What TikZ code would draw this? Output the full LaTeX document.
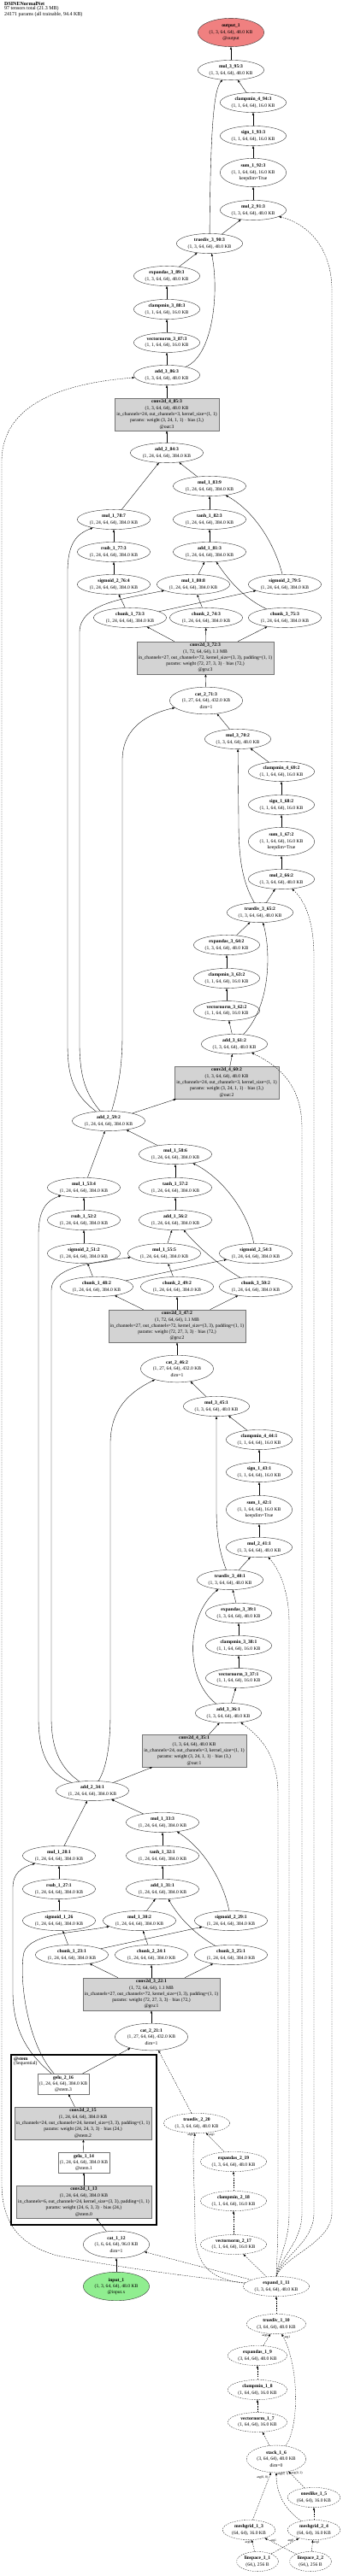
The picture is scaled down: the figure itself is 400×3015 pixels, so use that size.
\documentclass[tikz,border=0pt]{standalone}
\usepackage{fontspec}
\setmainfont{Liberation Serif}
\usetikzlibrary{shapes.geometric,arrows.meta}
\definecolor{outred}{HTML}{F08080}
\definecolor{ingreen}{HTML}{90EE90}
\definecolor{convgray}{HTML}{D3D3D3}
\newcommand{\nm}[1]{\textbf{#1}}
\newcommand{\shA}{(1, 3, 64, 64), 48.0 KB}
\newcommand{\shB}{(1, 1, 64, 64), 16.0 KB}
\newcommand{\shC}{(1, 24, 64, 64), 384.0 KB}

\begin{document}
\begin{tikzpicture}[x=1pt, y=1pt,
  every node/.style={font=\fontsize{5.6}{7.3}\selectfont, align=center},
  op/.style={ellipse, draw=black!80, line width=0.4pt, inner xsep=2pt, inner ysep=2pt},
  cop/.style={op, dash pattern=on 1.6pt off 1.2pt},
  layer/.style={rectangle, draw=black!55, fill=convgray, line width=0.4pt, inner xsep=2pt, inner ysep=2pt},
  act/.style={rectangle, draw=black!55, fill=white, line width=0.4pt, inner xsep=2pt, inner ysep=2pt},
  edge/.style={-{Triangle[length=3pt,width=2.2pt]}, line width=0.35pt},
  cedge/.style={edge, dash pattern=on 1.6pt off 1.2pt},
  albl/.style={font=\fontsize{3.8}{4}\selectfont, inner sep=0.3pt}]
\useasboundingbox (0,0) rectangle (400,-3015);

\node[anchor=north west, align=left, inner sep=0pt, font=\fontsize{6}{5.4}\selectfont] (hdr) at (5,-2) {\textbf{DSINENormalNet}\\97 tensors total (21.3 MB)\\24171 params (all trainable, 94.4 KB)};

% pass 3
\node[op, fill=outred] (out1) at (270,-38) {\nm{output\_1}\\\shA\\@output};
\node[op] (mul3_95) at (270,-82) {\nm{mul\_3\_95:3}\\\shA};
\node[op] (cm4_94) at (296,-120) {\nm{clampmin\_4\_94:3}\\\shB};
\node[op] (sign_93) at (296,-159) {\nm{sign\_1\_93:3}\\\shB};
\node[op] (sum_92) at (296,-202) {\nm{sum\_1\_92:3}\\\shB\\keepdim=True};
\node[op] (mul2_91) at (296,-246) {\nm{mul\_2\_91:3}\\\shA};
\node[op] (div3_90) at (245,-285) {\nm{truediv\_3\_90:3}\\\shA};
\node[op] (exp3_89) at (195,-323) {\nm{expandas\_3\_89:3}\\\shA};
\node[op] (cm3_88) at (195,-362) {\nm{clampmin\_3\_88:3}\\\shB};
\node[op] (vn3_87) at (195,-401) {\nm{vectornorm\_3\_87:3}\\\shB};
\node[op] (add3_86) at (195,-439) {\nm{add\_3\_86:3}\\\shA};
\node[layer] (conv4_85) at (195,-485) {\nm{conv2d\_4\_85:3}\\\shA\\in\_channels=24, out\_channels=3, kernel\_size=(1, 1)\\params: weight (3, 24, 1, 1) $\cdot$ bias (3,)\\@out:3};
\node[op] (add2_84) at (195,-530) {\nm{add\_2\_84:3}\\\shC};
\node[op] (mul1_83) at (245,-569) {\nm{mul\_1\_83:9}\\\shC};
\node[op] (mul1_78) at (133,-608) {\nm{mul\_1\_78:7}\\\shC};
\node[op] (tanh_82) at (245,-608) {\nm{tanh\_1\_82:3}\\\shC};
\node[op] (rsub_77) at (133,-646) {\nm{rsub\_1\_77:3}\\\shC};
\node[op] (add1_81) at (245,-646) {\nm{add\_1\_81:3}\\\shC};
\node[op] (sig_76) at (133,-684) {\nm{sigmoid\_2\_76:4}\\\shC};
\node[op] (mul1_80) at (226,-684) {\nm{mul\_1\_80:8}\\\shC};
\node[op] (sig_79) at (333,-684) {\nm{sigmoid\_2\_79:5}\\\shC};
\node[op] (chk1_73) at (152,-723) {\nm{chunk\_1\_73:3}\\\shC};
\node[op] (chk2_74) at (241,-723) {\nm{chunk\_2\_74:3}\\\shC};
\node[op] (chk3_75) at (333,-723) {\nm{chunk\_3\_75:3}\\\shC};
\node[layer] (conv3_72) at (240,-770) {\nm{conv2d\_3\_72:3}\\(1, 72, 64, 64), 1.1 MB\\in\_channels=27, out\_channels=72, kernel\_size=(3, 3), padding=(1, 1)\\params: weight (72, 27, 3, 3) $\cdot$ bias (72,)\\@gru:3};
\node[op] (cat2_71) at (241,-820) {\nm{cat\_2\_71:3}\\(1, 27, 64, 64), 432.0 KB\\dim=1};

% pass 2
\node[op] (mul3_70) at (278,-865) {\nm{mul\_3\_70:2}\\\shA};
\node[op] (cm4_69) at (329,-903) {\nm{clampmin\_4\_69:2}\\\shB};
\node[op] (sign_68) at (329,-942) {\nm{sign\_1\_68:2}\\\shB};
\node[op] (sum_67) at (329,-985) {\nm{sum\_1\_67:2}\\\shB\\keepdim=True};
\node[op] (mul2_66) at (329,-1029) {\nm{mul\_2\_66:2}\\\shA};
\node[op] (div3_65) at (304,-1068) {\nm{truediv\_3\_65:2}\\\shA};
\node[op] (exp3_64) at (265,-1106) {\nm{expandas\_3\_64:2}\\\shA};
\node[op] (cm3_63) at (265,-1145) {\nm{clampmin\_3\_63:2}\\\shB};
\node[op] (vn3_62) at (265,-1183) {\nm{vectornorm\_3\_62:2}\\\shB};
\node[op] (add3_61) at (274,-1222) {\nm{add\_3\_61:2}\\\shA};
\node[layer] (conv4_60) at (265,-1267) {\nm{conv2d\_4\_60:2}\\\shA\\in\_channels=24, out\_channels=3, kernel\_size=(1, 1)\\params: weight (3, 24, 1, 1) $\cdot$ bias (3,)\\@out:2};
\node[op] (add2_59) at (127,-1312) {\nm{add\_2\_59:2}\\\shC};
\node[op] (mul1_58) at (205,-1351) {\nm{mul\_1\_58:6}\\\shC};
\node[op] (mul1_53) at (98,-1390) {\nm{mul\_1\_53:4}\\\shC};
\node[op] (tanh_57) at (205,-1390) {\nm{tanh\_1\_57:2}\\\shC};
\node[op] (rsub_52) at (98,-1428) {\nm{rsub\_1\_52:2}\\\shC};
\node[op] (add1_56) at (205,-1428) {\nm{add\_1\_56:2}\\\shC};
\node[op] (sig_51) at (98,-1467) {\nm{sigmoid\_2\_51:2}\\\shC};
\node[op] (mul1_55) at (192,-1467) {\nm{mul\_1\_55:5}\\\shC};
\node[op] (sig_54) at (299,-1467) {\nm{sigmoid\_2\_54:3}\\\shC};
\node[op] (chk1_48) at (113,-1506) {\nm{chunk\_1\_48:2}\\\shC};
\node[op] (chk2_49) at (207,-1506) {\nm{chunk\_2\_49:2}\\\shC};
\node[op] (chk3_50) at (299,-1506) {\nm{chunk\_3\_50:2}\\\shC};
\node[layer] (conv3_47) at (207,-1552) {\nm{conv2d\_3\_47:2}\\(1, 72, 64, 64), 1.1 MB\\in\_channels=27, out\_channels=72, kernel\_size=(3, 3), padding=(1, 1)\\params: weight (72, 27, 3, 3) $\cdot$ bias (72,)\\@gru:2};
\node[op] (cat2_46) at (207,-1602) {\nm{cat\_2\_46:2}\\(1, 27, 64, 64), 432.0 KB\\dim=1};

% pass 1
\node[op] (mul3_45) at (253,-1646) {\nm{mul\_3\_45:1}\\\shA};
\node[op] (cm4_44) at (303,-1685) {\nm{clampmin\_4\_44:1}\\\shB};
\node[op] (sign_43) at (303,-1723) {\nm{sign\_1\_43:1}\\\shB};
\node[op] (sum_42) at (303,-1767) {\nm{sum\_1\_42:1}\\\shB\\keepdim=True};
\node[op] (mul2_41) at (303,-1811) {\nm{mul\_2\_41:1}\\\shA};
\node[op] (div3_40) at (269,-1849) {\nm{truediv\_3\_40:1}\\\shA};
\node[op] (exp3_39) at (279,-1888) {\nm{expandas\_3\_39:1}\\\shA};
\node[op] (cm3_38) at (279,-1926) {\nm{clampmin\_3\_38:1}\\\shB};
\node[op] (vn3_37) at (279,-1964) {\nm{vectornorm\_3\_37:1}\\\shB};
\node[op] (add3_36) at (267,-2005) {\nm{add\_3\_36:1}\\\shA};
\node[layer] (conv4_35) at (227,-2049) {\nm{conv2d\_4\_35:1}\\\shA\\in\_channels=24, out\_channels=3, kernel\_size=(1, 1)\\params: weight (3, 24, 1, 1) $\cdot$ bias (3,)\\@out:1};
\node[op] (add2_34) at (108,-2096) {\nm{add\_2\_34:1}\\\shC};
\node[op] (mul1_33) at (190,-2133) {\nm{mul\_1\_33:3}\\\shC};
\node[op] (mul1_28) at (69,-2172) {\nm{mul\_1\_28:1}\\\shC};
\node[op] (tanh_32) at (190,-2172) {\nm{tanh\_1\_32:1}\\\shC};
\node[op] (rsub_27) at (69,-2211) {\nm{rsub\_1\_27:1}\\\shC};
\node[op] (add1_31) at (190,-2211) {\nm{add\_1\_31:1}\\\shC};
\node[op] (sig_26) at (69,-2248) {\nm{sigmoid\_1\_26}\\\shC};
\node[op] (mul1_30) at (163,-2248) {\nm{mul\_1\_30:2}\\\shC};
\node[op] (sig_29) at (270,-2248) {\nm{sigmoid\_2\_29:1}\\\shC};
\node[op] (chk1_23) at (84,-2288) {\nm{chunk\_1\_23:1}\\\shC};
\node[op] (chk2_24) at (177,-2288) {\nm{chunk\_2\_24:1}\\\shC};
\node[op] (chk3_25) at (270,-2288) {\nm{chunk\_3\_25:1}\\\shC};
\node[layer] (conv3_22) at (177,-2334) {\nm{conv2d\_3\_22:1}\\(1, 72, 64, 64), 1.1 MB\\in\_channels=27, out\_channels=72, kernel\_size=(3, 3), padding=(1, 1)\\params: weight (72, 27, 3, 3) $\cdot$ bias (72,)\\@gru:1};
\node[op] (cat2_21) at (177,-2384) {\nm{cat\_2\_21:1}\\(1, 27, 64, 64), 432.0 KB\\dim=1};

% stem
\draw[line width=2.5pt] (13,-2405) rectangle (183,-2604);
\node[anchor=north west, align=left, inner sep=0pt, font=\fontsize{5.6}{5}\selectfont] (stemlbl) at (16,-2408) {\textbf{@stem}\\(Sequential)};
\node[act] (gelu2_16) at (74,-2439) {\nm{gelu\_2\_16}\\\shC\\@stem.3};
\node[layer] (conv2_15) at (97,-2485) {\nm{conv2d\_2\_15}\\\shC\\in\_channels=24, out\_channels=24, kernel\_size=(3, 3), padding=(1, 1)\\params: weight (24, 24, 3, 3) $\cdot$ bias (24,)\\@stem.2};
\node[act] (gelu1_14) at (98,-2531) {\nm{gelu\_1\_14}\\\shC\\@stem.1};
\node[layer] (conv1_13) at (98,-2577) {\nm{conv2d\_1\_13}\\\shC\\in\_channels=6, out\_channels=24, kernel\_size=(3, 3), padding=(1, 1)\\params: weight (24, 6, 3, 3) $\cdot$ bias (24,)\\@stem.0};
\node[op] (cat1_12) at (136,-2627) {\nm{cat\_1\_12}\\(1, 6, 64, 64), 96.0 KB\\dim=1};
\node[op, fill=ingreen] (input1) at (136,-2676) {\nm{input\_1}\\\shA\\@input.x};

% ray directions
\node[cop] (div2_20) at (230,-2485) {\nm{truediv\_2\_20}\\\shA};
\node[cop] (exp2_19) at (273,-2530) {\nm{expandas\_2\_19}\\\shA};
\node[cop] (cm2_18) at (273,-2576) {\nm{clampmin\_2\_18}\\\shB};
\node[cop] (vn2_17) at (273,-2627) {\nm{vectornorm\_2\_17}\\\shB};
\node[cop] (expd_11) at (323,-2676) {\nm{expand\_1\_11}\\\shA};
\node[cop] (div1_10) at (323,-2720) {\nm{truediv\_1\_10}\\(3, 64, 64), 48.0 KB};
\node[cop] (exp1_9) at (301,-2757) {\nm{expandas\_1\_9}\\(3, 64, 64), 48.0 KB};
\node[cop] (cm1_8) at (301,-2797) {\nm{clampmin\_1\_8}\\(1, 64, 64), 16.0 KB};
\node[cop] (vn1_7) at (301,-2835) {\nm{vectornorm\_1\_7}\\(1, 64, 64), 16.0 KB};
\node[cop] (stack_6) at (323,-2878) {\nm{stack\_1\_6}\\(3, 64, 64), 48.0 KB\\dim=0};
\node[cop] (ones_5) at (367,-2923) {\nm{oneslike\_1\_5}\\(64, 64), 16.0 KB};
\node[cop] (mesh1_3) at (291,-2961) {\nm{meshgrid\_1\_3}\\(64, 64), 16.0 KB};
\node[cop] (mesh2_4) at (367,-2961) {\nm{meshgrid\_2\_4}\\(64, 64), 16.0 KB};
\node[cop] (lin1_1) at (301,-2998) {\nm{linspace\_1\_1}\\(64,), 256 B};
\node[cop] (lin2_2) at (363,-2998) {\nm{linspace\_2\_2}\\(64,), 256 B};

% edges, pass 3
\draw[edge] (mul3_95) -- (out1);
\draw[edge] (cm4_94) -- (mul3_95);
\draw[edge] (sign_93) -- (cm4_94);
\draw[edge] (sum_92) -- (sign_93);
\draw[edge] (mul2_91) -- (sum_92);
\draw[edge] (div3_90) -- (mul2_91);
\draw[edge] (div3_90) .. controls (246,-150) and (250,-105) .. (mul3_95);
\draw[edge] (exp3_89) -- (div3_90);
\draw[edge] (cm3_88) -- (exp3_89);
\draw[edge] (vn3_87) -- (cm3_88);
\draw[edge] (add3_86) -- (vn3_87);
\draw[edge] (add3_86) .. controls (250,-415) and (256,-340) .. (div3_90);
\draw[edge] (conv4_85) -- (add3_86);
\draw[edge] (add2_84) -- (conv4_85);
\draw[edge] (mul1_83) -- (add2_84);
\draw[edge] (mul1_78) -- (add2_84);
\draw[edge] (tanh_82) -- (mul1_83);
\draw[edge] (sig_79) .. controls (322,-640) and (300,-600) .. (mul1_83);
\draw[edge] (rsub_77) -- (mul1_78);
\draw[edge] (sig_76) -- (rsub_77);
\draw[edge] (add1_81) -- (tanh_82);
\draw[edge] (mul1_80) -- (add1_81);
\draw[edge] (chk3_75) .. controls (285,-700) and (268,-680) .. (add1_81);
\draw[edge] (chk1_73) -- (sig_76);
\draw[edge] (chk1_73) -- (sig_79);
\draw[edge] (chk2_74) -- (mul1_80);
\draw[edge] (conv3_72) -- (chk1_73);
\draw[edge] (conv3_72) -- (chk2_74);
\draw[edge] (conv3_72) -- (chk3_75);
\draw[edge] (cat2_71) -- (conv3_72);
\draw[edge] (mul3_70) -- (cat2_71);

% edges, pass 2
\draw[edge] (cm4_69) -- (mul3_70);
\draw[edge] (sign_68) -- (cm4_69);
\draw[edge] (sum_67) -- (sign_68);
\draw[edge] (mul2_66) -- (sum_67);
\draw[edge] (div3_65) -- (mul2_66);
\draw[edge] (div3_65) .. controls (282,-1030) and (279,-1000) .. (279,-960) -- (mul3_70);
\draw[edge] (exp3_64) -- (div3_65);
\draw[edge] (cm3_63) -- (exp3_64);
\draw[edge] (vn3_62) -- (cm3_63);
\draw[edge] (add3_61) -- (vn3_62);
\draw[edge] (add3_61) .. controls (318,-1175) and (316,-1110) .. (div3_65);
\draw[edge] (conv4_60) -- (add3_61);
\draw[edge] (add2_59) -- (conv4_60);
\draw[edge] (add2_59) .. controls (85,-1280) and (79,-1260) .. (79,-1220) -- (79,-670) .. controls (79,-635) and (90,-625) .. (mul1_78);
\draw[edge] (add2_59) .. controls (100,-1280) and (93,-1260) .. (93,-1220) -- (93,-740) .. controls (93,-705) and (150,-700) .. (mul1_80);
\draw[edge] (add2_59) .. controls (138,-1275) and (143,-1250) .. (143,-1210) -- (143,-890) .. controls (143,-850) and (175,-835) .. (cat2_71);
\draw[edge] (mul1_58) -- (add2_59);
\draw[edge] (mul1_53) -- (add2_59);
\draw[edge] (tanh_57) -- (mul1_58);
\draw[edge] (sig_54) .. controls (290,-1420) and (262,-1380) .. (mul1_58);
\draw[edge] (rsub_52) -- (mul1_53);
\draw[edge] (sig_51) -- (rsub_52);
\draw[edge] (add1_56) -- (tanh_57);
\draw[edge] (mul1_55) -- (add1_56);
\draw[edge] (chk3_50) .. controls (255,-1480) and (232,-1460) .. (add1_56);
\draw[edge] (chk1_48) -- (sig_51);
\draw[edge] (chk1_48) -- (sig_54);
\draw[edge] (chk2_49) -- (mul1_55);
\draw[edge] (conv3_47) -- (chk1_48);
\draw[edge] (conv3_47) -- (chk2_49);
\draw[edge] (conv3_47) -- (chk3_50);
\draw[edge] (cat2_46) -- (conv3_47);
\draw[edge] (mul3_45) -- (cat2_46);

% edges, pass 1
\draw[edge] (cm4_44) -- (mul3_45);
\draw[edge] (sign_43) -- (cm4_44);
\draw[edge] (sum_42) -- (sign_43);
\draw[edge] (mul2_41) -- (sum_42);
\draw[edge] (div3_40) -- (mul2_41);
\draw[edge] (div3_40) .. controls (256,-1815) and (253,-1795) .. (253,-1765) -- (mul3_45);
\draw[edge] (exp3_39) -- (div3_40);
\draw[edge] (cm3_38) -- (exp3_39);
\draw[edge] (vn3_37) -- (cm3_38);
\draw[edge] (add3_36) -- (vn3_37);
\draw[edge] (add3_36) .. controls (215,-1965) and (218,-1890) .. (div3_40);
\draw[edge] (conv4_35) -- (add3_36);
\draw[edge] (add2_34) -- (conv4_35);
\draw[edge] (add2_34) .. controls (55,-2075) and (45,-2050) .. (45,-2010) -- (45,-1445) .. controls (45,-1415) and (55,-1405) .. (mul1_53);
\draw[edge] (add2_34) .. controls (72,-2070) and (60,-2050) .. (60,-2010) -- (60,-1510) .. controls (60,-1485) and (100,-1478) .. (mul1_55);
\draw[edge] (add2_34) .. controls (124,-2070) and (129,-2045) .. (129,-2005) -- (129,-1690) .. controls (129,-1650) and (150,-1630) .. (cat2_46);
\draw[edge] (mul1_33) -- (add2_34);
\draw[edge] (mul1_28) -- (add2_34);
\draw[edge] (tanh_32) -- (mul1_33);
\draw[edge] (sig_29) .. controls (262,-2205) and (240,-2165) .. (mul1_33);
\draw[edge] (rsub_27) -- (mul1_28);
\draw[edge] (sig_26) -- (rsub_27);
\draw[edge] (add1_31) -- (tanh_32);
\draw[edge] (mul1_30) -- (add1_31);
\draw[edge] (chk3_25) .. controls (225,-2262) and (208,-2242) .. (add1_31);
\draw[edge] (chk1_23) -- (sig_26);
\draw[edge] (chk1_23) -- (sig_29);
\draw[edge] (chk2_24) -- (mul1_30);
\draw[edge] (conv3_22) -- (chk1_23);
\draw[edge] (conv3_22) -- (chk2_24);
\draw[edge] (conv3_22) -- (chk3_25);
\draw[edge] (cat2_21) -- (conv3_22);
\draw[edge] (gelu2_16) -- (cat2_21);
\draw[edge] (gelu2_16) .. controls (35,-2405) and (15,-2380) .. (15,-2330) -- (15,-2210) .. controls (15,-2192) and (25,-2186) .. (mul1_28);
\draw[edge] (gelu2_16) .. controls (30,-2390) and (22,-2310) .. (28,-2285) .. controls (36,-2262) and (90,-2262) .. (mul1_30);
\draw[cedge] (div2_20) -- (cat2_21);

% edges, stem
\draw[edge] (conv2_15) -- (gelu2_16);
\draw[edge] (gelu1_14) -- (conv2_15);
\draw[edge] (conv1_13) -- (gelu1_14);
\draw[edge] (cat1_12) -- (conv1_13);
\draw[edge] (input1) -- (cat1_12);

% edges, ray directions
\draw[cedge] (expd_11) -- (cat1_12);
\draw[cedge] (expd_11) .. controls (200,-2662) and (130,-2652) .. (67,-2640) .. controls (25,-2628) and (2,-2605) .. (2,-2555) -- (2,-540) .. controls (2,-470) and (80,-448) .. (add3_86);
\draw[cedge] (expd_11) .. controls (245,-2668) and (228,-2650) .. (228,-2610) .. controls (228,-2560) and (224,-2520) .. (div2_20) node[albl, pos=0.97, left=1pt] {arg0};
\draw[cedge] (exp2_19) -- (div2_20) node[albl, pos=0.9, right=1pt] {arg1};
\draw[cedge] (cm2_18) -- (exp2_19);
\draw[cedge] (vn2_17) -- (cm2_18);
\draw[cedge] (expd_11) -- (vn2_17);
\draw[cedge] (expd_11.north) .. controls (324,-2640) and (325,-2620) .. (325,-2580) -- (325,-2100) .. controls (325,-2050) and (300,-2030) .. (add3_36);
\draw[cedge] (expd_11.north) .. controls (326,-2640) and (338,-2625) .. (338,-2590) -- (338,-1900) .. controls (338,-1860) and (325,-1835) .. (mul2_41);
\draw[cedge] (expd_11.north) .. controls (328,-2640) and (353,-2625) .. (353,-2590) -- (353,-1320) .. controls (353,-1265) and (320,-1245) .. (add3_61);
\draw[cedge] (expd_11.north) .. controls (330,-2640) and (367,-2625) .. (367,-2590) -- (367,-1120) .. controls (367,-1070) and (352,-1050) .. (mul2_66);
\draw[cedge] (expd_11.north) .. controls (332,-2640) and (388,-2625) .. (388,-2590) -- (388,-340) .. controls (388,-290) and (360,-262) .. (mul2_91);
\draw[cedge] (div1_10) -- (expd_11);
\draw[cedge] (exp1_9) -- (div1_10) node[albl, pos=0.85, left=1pt] {arg0};
\draw[cedge] (cm1_8) -- (exp1_9);
\draw[cedge] (vn1_7) -- (cm1_8);
\draw[cedge] (stack_6) -- (vn1_7);
\draw[cedge] (stack_6) .. controls (350,-2840) and (350,-2770) .. (div1_10) node[albl, pos=0.97, right=1pt] {arg1};
\draw[cedge] (mesh1_3) -- (stack_6) node[albl, pos=0.9, left=1pt] {arg(0, 0)};
\draw[cedge] (mesh2_4) .. controls (330,-2935) and (323,-2915) .. (stack_6) node[albl, pos=0.97, right=1pt] {arg(0, 1)};
\draw[cedge] (ones_5) -- (stack_6) node[albl, pos=0.9, right=1pt] {arg(0, 2)};
\draw[cedge] (mesh2_4) -- (ones_5);
\draw[cedge] (lin1_1) -- (mesh1_3) node[albl, pos=0.8, left=1pt] {arg0};
\draw[cedge] (lin1_1) -- (mesh2_4) node[albl, pos=0.85, left=1pt] {arg0};
\draw[cedge] (lin2_2) -- (mesh1_3) node[albl, pos=0.85, right=1pt] {arg1};
\draw[cedge] (lin2_2) -- (mesh2_4) node[albl, pos=0.8, right=1pt] {arg1};
\end{tikzpicture}
\end{document}
